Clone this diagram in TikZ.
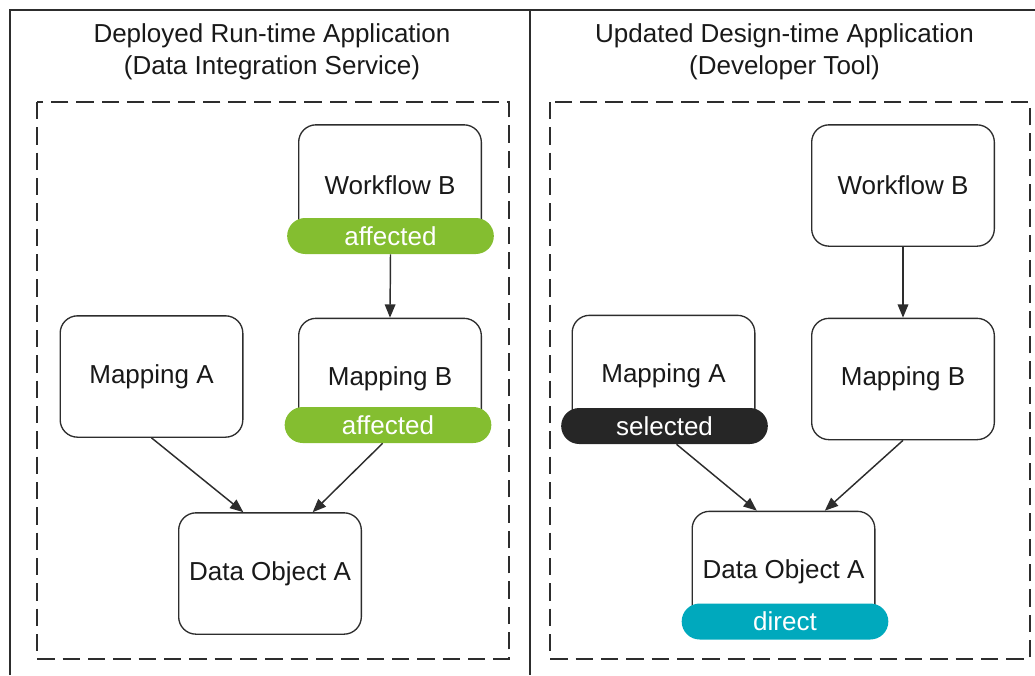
\documentclass[tikz,border=0pt]{standalone}
\usepackage{fontspec}
\setmainfont{Liberation Sans}
\usetikzlibrary{positioning, arrows.meta, calc}
\definecolor{FrameGray}{RGB}{45,45,45}
\definecolor{AffectedGreen}{RGB}{132,190,48}
\definecolor{SelectedBlack}{RGB}{38,38,38}
\definecolor{DirectTeal}{RGB}{0,169,189}

\tikzset{
  objbox/.style={draw=FrameGray, line width=1pt, rounded corners=13pt, fill=white,
    minimum width=137pt, minimum height=91pt, inner sep=0pt, text=black!90, font=\fontsize{19.5}{23}\selectfont},
  tagpill/.style={fill=#1, rounded corners=13.5pt, minimum width=155pt, minimum height=27pt,
    inner sep=0pt, text=white, font=\fontsize{19.5}{23}\selectfont},
  depends/.style={-{Triangle[length=10pt,width=8pt]}, line width=1.1pt, FrameGray},
  groupframe/.style={draw=FrameGray, line width=1.1pt, dash pattern=on 13pt off 6pt},
  paneltitle/.style={align=center, font=\fontsize{19.5}{24}\selectfont, text=black!90},
}

\begin{document}
\begin{tikzpicture}[x=0.75pt, y=-0.75pt]
  \useasboundingbox (0,0) rectangle (1035,675);
  % outer panels
  \draw[FrameGray, line width=1.2pt] (10,675) -- (10,10) -- (1040,10);
  \draw[FrameGray, line width=1.2pt] (530,10) -- (530,675);
  \node[paneltitle] (titleLeft) at (272,52) {Deployed Run-time Application\\(Data Integration Service)};
  \node[paneltitle] (titleRight) at (784.5,52) {Updated Design-time Application\\(Developer Tool)};
  \draw[groupframe] (37,102) rectangle (509,659);
  \draw[groupframe] (550,102) rectangle (1030,659);

  % run-time side
  \node[objbox] (wfLeft) at (390,185.5) {Workflow B};
  \node[tagpill=AffectedGreen] (wfLeftTag) at (390.5,236) {affected};
  \node[objbox] (mapBLeft) at (390,379) {Mapping B};
  \node[tagpill=AffectedGreen] (mapBLeftTag) at (388,425) {affected};
  \node[objbox] (mapALeft) at (151.5,376.5) {Mapping A};
  \node[objbox] (dataLeft) at (270,573.5) {Data Object A};
  \draw[depends] (wfLeftTag.south) -- (mapBLeft.north);
  \draw[depends] (mapALeft.south) -- ([xshift=-20pt]dataLeft.north);
  \draw[depends] ([xshift=-4pt]mapBLeftTag.south) -- ([xshift=32pt]dataLeft.north);

  % design-time side
  \node[objbox] (wfRight) at (903,185.5) {Workflow B};
  \node[objbox] (mapBRight) at (903,379) {Mapping B};
  \node[objbox] (mapARight) at (663.5,376) {Mapping A};
  \node[tagpill=SelectedBlack] (mapARightTag) at (664.5,426) {selected};
  \node[objbox] (dataRight) at (783.5,572) {Data Object A};
  \node[tagpill=DirectTeal] (dataRightTag) at (785,621.5) {direct};
  \draw[depends] (wfRight.south) -- (mapBRight.north);
  \draw[depends] ([xshift=9pt]mapARightTag.south) -- ([xshift=-20pt]dataRight.north);
  \draw[depends] (mapBRight.south) -- ([xshift=31pt]dataRight.north);
\end{tikzpicture}
\end{document}
